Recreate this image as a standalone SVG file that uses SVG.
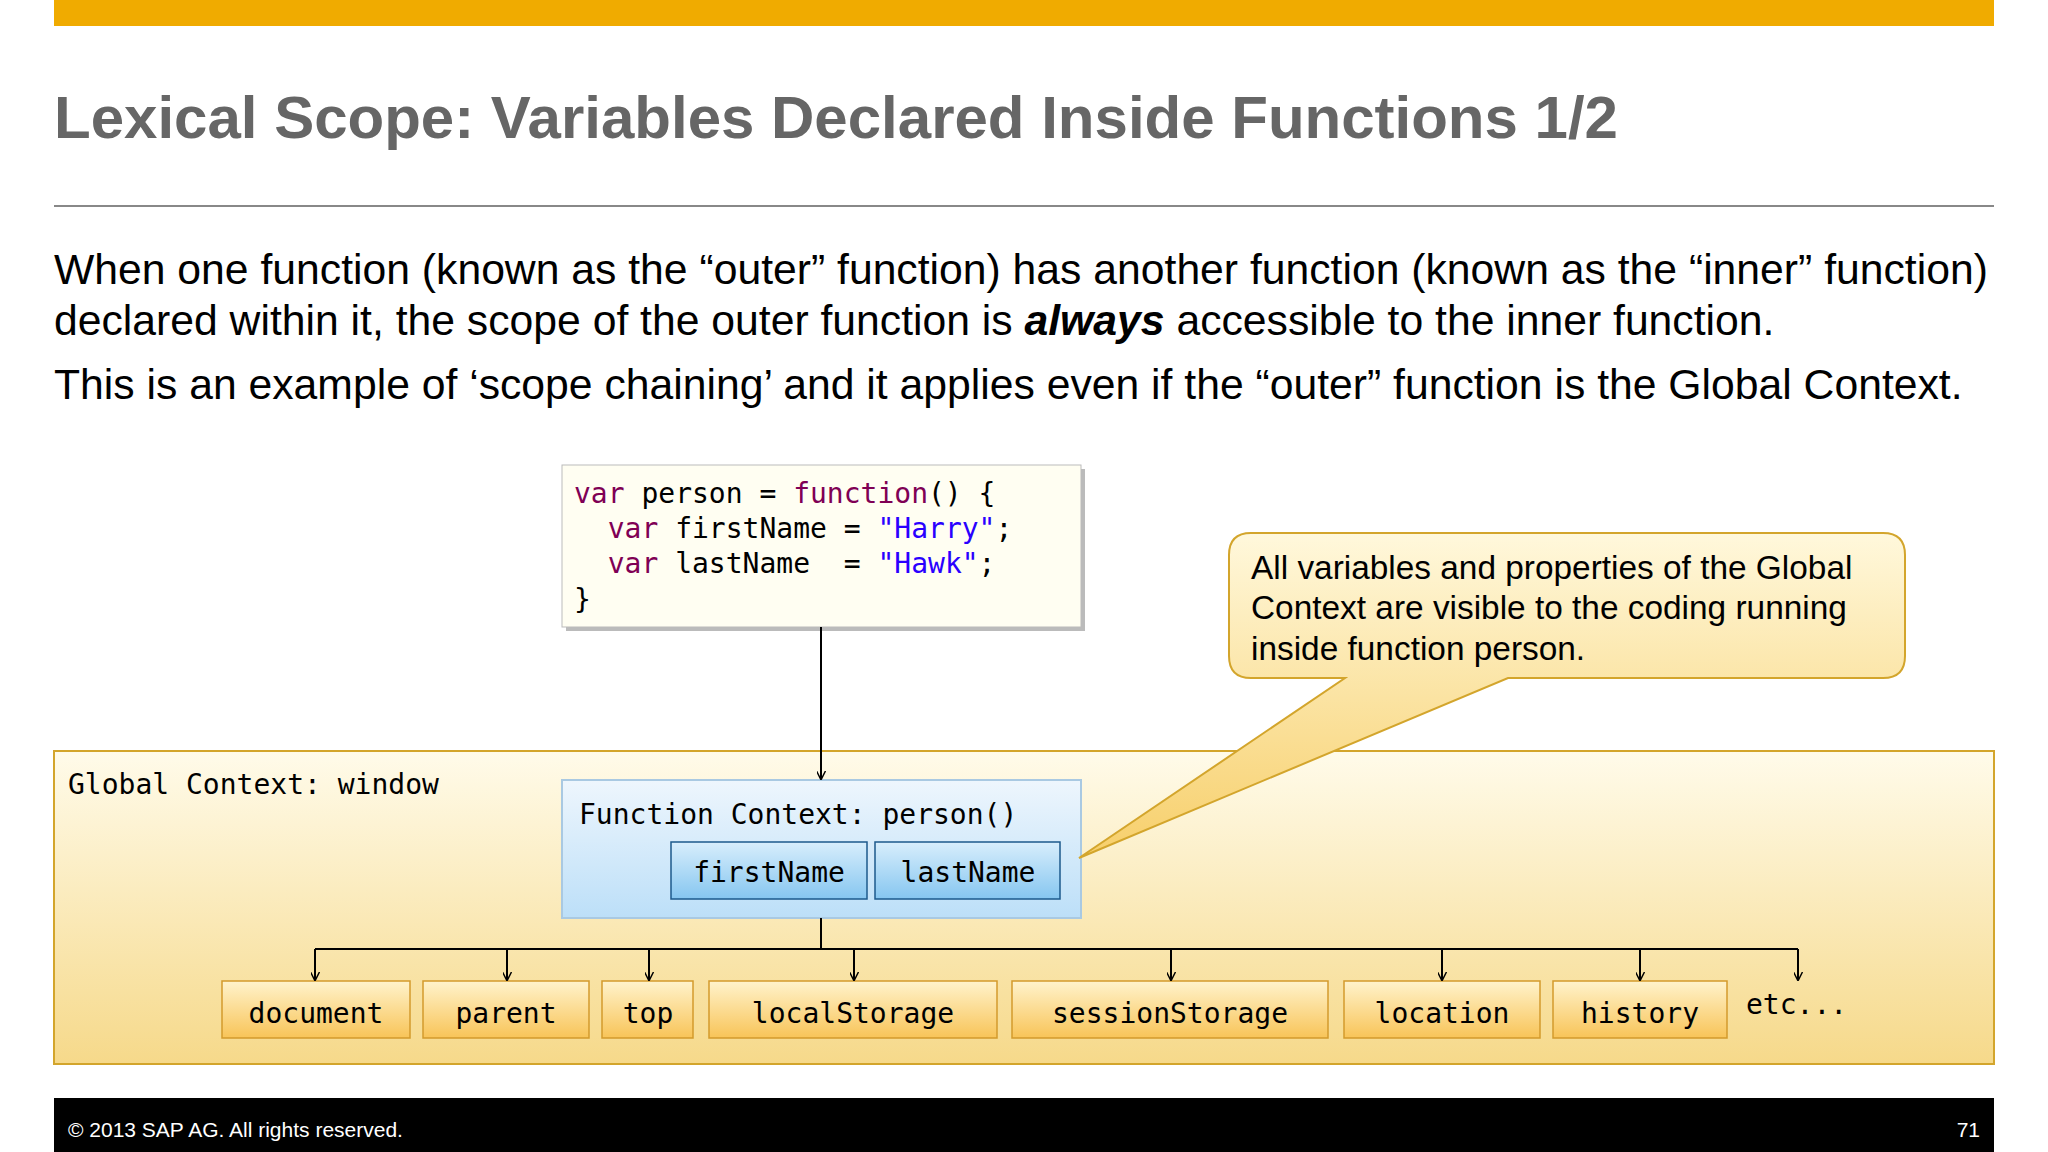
<svg xmlns="http://www.w3.org/2000/svg" width="2048" height="1152" viewBox="0 0 2048 1152">
<defs>
<linearGradient id="gy" x1="0" y1="0" x2="0" y2="1"><stop offset="0" stop-color="#fffbea"/><stop offset="1" stop-color="#f6d98a"/></linearGradient>
<linearGradient id="gi" x1="0" y1="0" x2="0" y2="1"><stop offset="0" stop-color="#fff3cc"/><stop offset="1" stop-color="#f8c458"/></linearGradient>
<linearGradient id="gb" x1="0" y1="0" x2="0" y2="1"><stop offset="0" stop-color="#eef6fd"/><stop offset="1" stop-color="#bcdff8"/></linearGradient>
<linearGradient id="gn" x1="0" y1="0" x2="0" y2="1"><stop offset="0" stop-color="#d8eefc"/><stop offset="1" stop-color="#86c6f0"/></linearGradient>
<linearGradient id="gc" x1="0" y1="0" x2="0" y2="1"><stop offset="0" stop-color="#fff8dc"/><stop offset="1" stop-color="#f7cf6a"/></linearGradient>
<marker id="ar" viewBox="0 0 10 10" refX="9" refY="5" markerWidth="9" markerHeight="9" orient="auto" markerUnits="userSpaceOnUse"><path d="M0,0 L10,5 L0,10" fill="none" stroke="#000" stroke-width="1.6"/></marker>
</defs>
<style>
.sans{font-family:"Liberation Sans",Arial,sans-serif}
.mono{font-family:"DejaVu Sans Mono","Liberation Mono",monospace;font-size:28px;fill:#000}
.item{fill:url(#gi);stroke:#d39a2c;stroke-width:1.5}
.nm{fill:url(#gn);stroke:#1d5a8c;stroke-width:1.5}
.k{fill:#7f0055}
.s{fill:#2a00ff}
.ln{stroke:#000;stroke-width:2;fill:none}
</style>
<rect width="2048" height="1152" fill="#fff"/>
<rect x="54" y="0" width="1940" height="26" fill="#f0ab00"/>
<text class="sans" x="54" y="138" font-size="60" font-weight="bold" fill="#666">Lexical Scope: Variables Declared Inside Functions 1/2</text>
<line x1="54" y1="206" x2="1994" y2="206" stroke="#888" stroke-width="2"/>
<g class="sans" font-size="42.7" fill="#000">
<text x="54" y="284">When one function (known as the “outer” function) has another function (known as the “inner” function)</text>
<text x="54" y="335">declared within it, the scope of the outer function is <tspan font-weight="bold" font-style="italic">always</tspan> accessible to the inner function.</text>
<text x="54" y="399">This is an example of ‘scope chaining’ and it applies even if the “outer” function is the Global Context.</text>
</g>
<g id="code">
<rect x="566" y="469" width="519" height="162" fill="#bbb"/>
<rect x="562" y="465" width="519" height="162" fill="#fffef2" stroke="#bbb"/>
<text class="mono" x="574" y="503"><tspan class="k">var</tspan> person = <tspan class="k">function</tspan>() {</text>
<text class="mono" x="574" y="538">&#160;&#160;<tspan class="k">var</tspan> firstName = <tspan class="s">"Harry"</tspan>;</text>
<text class="mono" x="574" y="573">&#160;&#160;<tspan class="k">var</tspan> lastName&#160;&#160;= <tspan class="s">"Hawk"</tspan>;</text>
<text class="mono" x="574" y="609">}</text>
</g>
<g id="global">
<rect x="54" y="751" width="1940" height="313" fill="url(#gy)" stroke="#d3a52c" stroke-width="2"/>
<text class="mono" x="68" y="794">Global Context: window</text>
</g>
<g id="func">
<rect x="562" y="780" width="519" height="138" fill="url(#gb)" stroke="#a9c9e2" stroke-width="2"/>
<text class="mono" x="579" y="824">Function Context: person()</text>
<rect class="nm" x="671" y="842" width="196" height="57"/>
<text class="mono" x="769" y="882" text-anchor="middle">firstName</text>
<rect class="nm" x="875" y="842" width="185" height="57"/>
<text class="mono" x="968" y="882" text-anchor="middle">lastName</text>
</g>
<g id="callout">
<path d="M1251,533 H1883 Q1905,533 1905,555 V656 Q1905,678 1883,678 H1508 L1079,858 L1345,678 H1251 Q1229,678 1229,656 V555 Q1229,533 1251,533 Z" fill="url(#gc)" stroke="#d3a52c" stroke-width="2"/>
<g class="sans" font-size="33.4" fill="#000">
<text x="1251" y="579">All variables and properties of the Global</text>
<text x="1251" y="619">Context are visible to the coding running</text>
<text x="1251" y="660">inside function person.</text>
</g>
</g>
<g id="items">
<rect class="item" x="222" y="981" width="188" height="57"/><text class="mono" x="316" y="1023" text-anchor="middle">document</text>
<rect class="item" x="423" y="981" width="166" height="57"/><text class="mono" x="506" y="1023" text-anchor="middle">parent</text>
<rect class="item" x="602" y="981" width="91" height="57"/><text class="mono" x="648" y="1023" text-anchor="middle">top</text>
<rect class="item" x="709" y="981" width="288" height="57"/><text class="mono" x="853" y="1023" text-anchor="middle">localStorage</text>
<rect class="item" x="1012" y="981" width="316" height="57"/><text class="mono" x="1170" y="1023" text-anchor="middle">sessionStorage</text>
<rect class="item" x="1344" y="981" width="196" height="57"/><text class="mono" x="1442" y="1023" text-anchor="middle">location</text>
<rect class="item" x="1553" y="981" width="174" height="57"/><text class="mono" x="1640" y="1023" text-anchor="middle">history</text>
<text class="mono" x="1746" y="1014">etc...</text>
</g>
<g id="connectors">
<line class="ln" x1="821" y1="627" x2="821" y2="779" marker-end="url(#ar)"/>
<line class="ln" x1="821" y1="918" x2="821" y2="949"/>
<line class="ln" x1="315" y1="949" x2="1798" y2="949"/>
<line class="ln" x1="315" y1="949" x2="315" y2="980" marker-end="url(#ar)"/>
<line class="ln" x1="507" y1="949" x2="507" y2="980" marker-end="url(#ar)"/>
<line class="ln" x1="649" y1="949" x2="649" y2="980" marker-end="url(#ar)"/>
<line class="ln" x1="854" y1="949" x2="854" y2="980" marker-end="url(#ar)"/>
<line class="ln" x1="1171" y1="949" x2="1171" y2="980" marker-end="url(#ar)"/>
<line class="ln" x1="1442" y1="949" x2="1442" y2="980" marker-end="url(#ar)"/>
<line class="ln" x1="1640" y1="949" x2="1640" y2="980" marker-end="url(#ar)"/>
<line class="ln" x1="1798" y1="949" x2="1798" y2="980" marker-end="url(#ar)"/>
</g>
<rect x="54" y="1098" width="1940" height="54" fill="#000"/>
<text class="sans" x="68" y="1137" font-size="21" fill="#fff">©  2013 SAP AG. All rights reserved.</text>
<text class="sans" x="1980" y="1137" font-size="21" fill="#fff" text-anchor="end">71</text>
</svg>
